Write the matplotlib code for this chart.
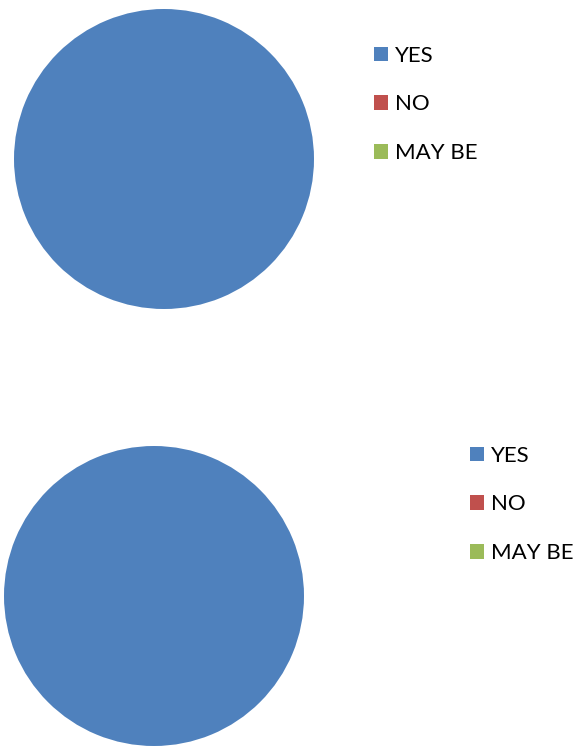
import matplotlib.pyplot as plt
from matplotlib.patches import Patch

W, H = 587, 749

labels = ["YES", "NO", "MAY BE"]
colors = ["#4F81BD", "#C0504D", "#9BBB59"]
top_values = [100, 0, 0]
bottom_values = [100, 0, 0]

plt.rcParams['font.family'] = ['Lato', 'DejaVu Sans']

fig = plt.figure(figsize=(W / 100, H / 100), dpi=100)

fs = 16  # pt
fs_px = fs * 100 / 72.0


def pie_panel(values, cx, cy, r, leg_x, leg_y):
    ax = fig.add_axes([(cx - r) / W, 1 - (cy + r) / H, 2 * r / W, 2 * r / H])
    nz = [v for v in values if v > 0]
    nz_colors = [c for v, c in zip(values, colors) if v > 0]
    ax.pie(nz, colors=nz_colors, startangle=90, counterclock=False, radius=1)
    ax.set_xlim(-1, 1)
    ax.set_ylim(-1, 1)
    ax.set_aspect('equal')
    ax.axis('off')
    handles = [Patch(facecolor=c, edgecolor='none') for c in colors]
    fig.legend(handles, labels, loc='center left',
               bbox_to_anchor=(leg_x / W, 1 - leg_y / H),
               bbox_transform=fig.transFigure, frameon=False,
               fontsize=fs, handlelength=14 / fs_px, handleheight=14 / fs_px,
               handletextpad=7 / fs_px, labelspacing=1.3,
               borderpad=0, borderaxespad=0)


pie_panel(top_values, 164, 159, 150, 374, 104.5)
pie_panel(bottom_values, 154, 596, 150, 470, 504.5)

fig.savefig("out.png", dpi=100)
